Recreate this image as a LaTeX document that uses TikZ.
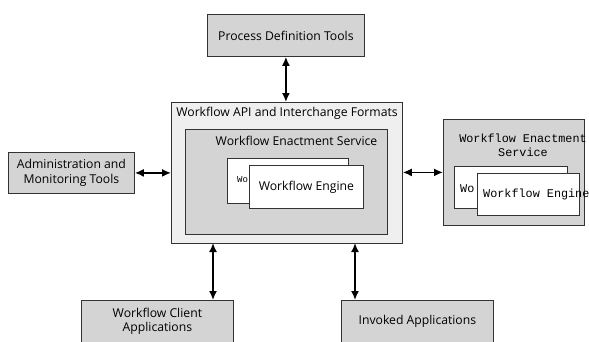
\documentclass[tikz,border=0pt]{standalone}
\usepackage{fontspec}
\setmainfont{Open Sans}
\newfontfamily\monof{Liberation Mono}
\usetikzlibrary{arrows.meta}
\definecolor{boxgray}{HTML}{D4D4D4}
\definecolor{lightgray}{HTML}{EFEFEF}
\definecolor{edge}{HTML}{333333}
\begin{document}
\begin{tikzpicture}[x=1pt,y=-1pt,
  box/.style={draw=edge, fill=boxgray, line width=0.8pt, anchor=north west, align=center, inner sep=0pt, font=\fontsize{12.2}{14.5}\selectfont},
  whitebox/.style={draw=edge, fill=white, line width=0.8pt, anchor=north west, inner sep=0pt},
  lbl/.style={font=\fontsize{12.2}{14.5}\selectfont, inner sep=0pt},
  mono/.style={font=\monof\fontsize{11.8}{14}\selectfont, inner sep=0pt, align=center},
  conn/.style={line width=1.6pt, {Latex[length=9pt,width=8pt]}-{Latex[length=9pt,width=8pt]}}]
\useasboundingbox (0,0) rectangle (589,341);
% top
\node[box, minimum width=157pt, minimum height=42pt] (pdt) at (207,14) {Process Definition Tools};
% central API box
\node[box, fill=lightgray, minimum width=231pt, minimum height=141pt] (api) at (171,102) {};
\node[lbl] (apilbl) at (287,113) {Workflow API and Interchange Formats};
\node[box, minimum width=202pt, minimum height=105pt] (wes) at (185,129) {};
\node[lbl] (weslbl) at (296.5,141) {Workflow Enactment Service};
\node[whitebox, minimum width=121pt, minimum height=45pt] (eng1) at (227,158) {};
\node[mono, font=\monof\fontsize{9}{11}\selectfont, anchor=west] (eng1t) at (237,180) {Wo};
\node[whitebox, minimum width=114pt, minimum height=43pt, font=\fontsize{12.2}{14.5}\selectfont] (eng2) at (249,165) {Workflow Engine};
% left
\node[box, minimum width=126pt, minimum height=41pt] (adm) at (8,152) {Administration and\\Monitoring Tools};
% right
\node[box, minimum width=141pt, minimum height=106pt] (rwes) at (443,119) {};
\node[mono] (rweslbl) at (523,145) {Workflow Enactment\\Service};
\node[whitebox, minimum width=113pt, minimum height=42pt] (reng1) at (454,166) {};
\node[mono, anchor=west] (reng1t) at (460,189) {Wo};
\node[whitebox, minimum width=102pt, minimum height=42pt] (reng2) at (477,173) {};
\node[mono, anchor=west] (reng2t) at (483,194) {Workflow Engine};
% bottom
\node[box, minimum width=152pt, minimum height=42pt] (cli) at (81,300) {Workflow Client\\Applications};
\node[box, minimum width=152pt, minimum height=42pt] (inv) at (341,300) {Invoked Applications};
% connectors
\draw[conn] (pdt.south) -- (pdt.south |- api.north);
\draw[conn] (adm.east) -- (adm.east -| api.west);
\draw[conn] (api.east |- rwes.west) -- (rwes.west);
\coordinate (c1) at (213,243);
\coordinate (c2) at (355,243);
\draw[conn] (c1) -- (c1 |- cli.north);
\draw[conn] (c2) -- (c2 |- inv.north);
\end{tikzpicture}
\end{document}
